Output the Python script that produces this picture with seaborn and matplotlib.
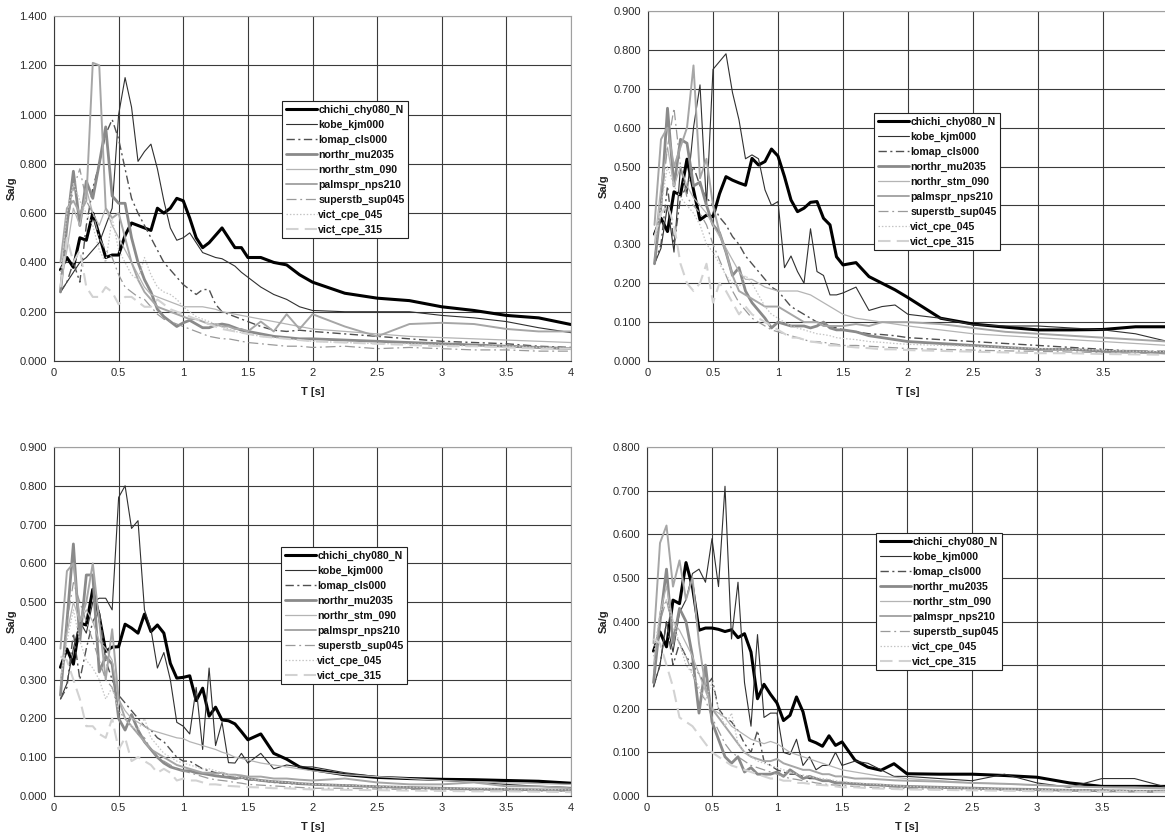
import matplotlib
matplotlib.use('Agg')
import matplotlib.pyplot as plt
import seaborn as sns
from matplotlib.ticker import FuncFormatter, MultipleLocator

# ---------------- data ----------------
T = [0.05, 0.10, 0.15, 0.20, 0.25, 0.30, 0.35, 0.40, 0.45, 0.50,
     0.55, 0.60, 0.65, 0.70, 0.75, 0.80, 0.85, 0.90, 0.95, 1.00,
     1.05, 1.10, 1.15, 1.20, 1.25, 1.30, 1.35, 1.40, 1.45, 1.50,
     1.6, 1.7, 1.8, 1.9, 2.0,
     2.25, 2.5, 2.75, 3.0, 3.25, 3.5, 3.75, 4.0]

NAMES = ["chichi_chy080_N", "kobe_kjm000", "lomap_cls000", "northr_mu2035",
         "northr_stm_090", "palmspr_nps210", "superstb_sup045",
         "vict_cpe_045", "vict_cpe_315"]

# Panel A (top-left)
A_chichi = [.37, .42, .38, .50, .49, .60, .51, .42, .43, .43,
            .51, .56, .55, .54, .53, .62, .60, .62, .66, .65,
            .58, .50, .46, .48, .51, .54, .50, .46, .46, .42,
            .42, .40, .39, .35, .32,
            .275, .255, .245, .22, .205, .185, .175, .148]
A_kobe = [.28, .32, .36, .40, .42, .45, .48, .55, .62, 1.00,
          1.15, 1.03, .81, .85, .88, .78, .65, .54, .49, .50,
          .52, .48, .44, .43, .42, .415, .40, .385, .36, .34,
          .30, .27, .25, .22, .205,
          .20, .20, .20, .185, .175, .16, .135, .115]
A_lomap = [.28, .32, .40, .32, .55, .70, .80, .92, .98, .90,
           .78, .66, .60, .55, .50, .45, .40, .37, .34, .31,
           .29, .27, .29, .29, .23, .20, .19, .18, .17, .16,
           .14, .125, .12, .125, .12,
           .11, .10, .09, .08, .075, .07, .06, .055]
A_mu2035 = [.28, .55, .77, .55, .73, .66, .80, .95, .67, .64,
            .64, .50, .40, .33, .28, .21, .18, .16, .14, .155,
            .165, .15, .135, .135, .145, .15, .145, .135, .125, .12,
            .11, .10, .095, .09, .09,
            .085, .08, .075, .07, .065, .06, .055, .05]
A_stm = [.30, .45, .62, .55, .70, .60, .55, .62, .55, .50,
         .45, .40, .35, .30, .27, .26, .25, .24, .23, .22,
         .22, .22, .22, .215, .21, .20, .195, .19, .185, .18,
         .17, .16, .15, .14, .13,
         .12, .11, .10, .095, .09, .085, .08, .075]
A_palm = [.40, .62, .65, .60, .65, 1.21, 1.20, .62, .58, .60,
          .50, .40, .33, .28, .25, .22, .21, .20, .19, .18,
          .17, .17, .16, .15, .15, .14, .14, .13, .13, .12,
          .16, .12, .19, .13, .19,
          .14, .10, .15, .155, .15, .13, .12, .12]
A_super = [.30, .55, .70, .78, .65, .60, .50, .45, .42, .35,
           .30, .28, .26, .25, .22, .19, .17, .16, .15, .14,
           .13, .12, .11, .10, .095, .09, .09, .085, .08, .075,
           .07, .065, .06, .06, .055,
           .06, .05, .055, .05, .045, .045, .04, .04]
A_v045 = [.35, .60, .72, .65, .60, .55, .45, .40, .58, .45,
          .40, .35, .33, .42, .35, .30, .28, .27, .25, .22,
          .20, .18, .17, .16, .15, .14, .13, .12, .115, .11,
          .10, .095, .09, .085, .08,
          .075, .07, .07, .065, .06, .06, .055, .05]
A_v315 = [.30, .50, .40, .45, .30, .26, .26, .30, .28, .23,
          .26, .26, .24, .22, .22, .25, .23, .21, .20, .19,
          .18, .17, .16, .15, .14, .13, .125, .12, .115, .11,
          .10, .095, .09, .085, .08,
          .075, .07, .065, .06, .06, .055, .05, .05]

# Panel B (top-right)
B_chichi = [.326, .367, .333, .435, .427, .519, .44, .363, .375, .371,
            .43, .474, .465, .458, .452, .521, .504, .513, .545, .527,
            .474, .414, .384, .393, .408, .41, .367, .35, .268, .247,
            .253, .217, .20, .183, .163,
            .11, .095, .087, .08, .08, .081, .088, .088]
B_kobe = [.25, .29, .40, .28, .50, .43, .60, .71, .40, .75,
          .77, .79, .69, .62, .52, .53, .52, .44, .40, .41,
          .24, .27, .23, .20, .34, .23, .22, .17, .17, .175,
          .19, .13, .14, .144, .12,
          .11, .093, .09, .09, .085, .08, .07, .05]
B_lomap = [.25, .30, .45, .30, .42, .45, .50, .45, .42, .40,
           .37, .35, .32, .30, .27, .25, .23, .21, .19, .18,
           .16, .14, .13, .12, .11, .10, .095, .09, .085, .08,
           .075, .07, .068, .065, .06,
           .055, .05, .045, .04, .035, .03, .025, .025]
B_mu2035 = [.25, .40, .65, .45, .57, .56, .45, .46, .40, .35,
            .33, .28, .22, .24, .18, .15, .13, .11, .085, .10,
            .095, .09, .09, .09, .085, .09, .10, .085, .08, .08,
            .075, .065, .06, .055, .05,
            .045, .04, .035, .03, .03, .025, .025, .02]
B_stm = [.30, .45, .55, .45, .50, .45, .42, .40, .38, .35,
         .32, .29, .26, .23, .21, .21, .20, .19, .185, .18,
         .18, .18, .18, .175, .17, .16, .15, .14, .13, .12,
         .11, .105, .10, .095, .09,
         .08, .07, .065, .06, .055, .05, .045, .04]
B_palm = [.35, .57, .60, .50, .55, .60, .76, .47, .52, .40,
          .33, .28, .22, .18, .17, .16, .15, .14, .14, .14,
          .13, .12, .11, .10, .10, .10, .09, .09, .09, .09,
          .095, .09, .10, .10, .10,
          .095, .085, .075, .07, .065, .06, .055, .05]
B_super = [.26, .40, .55, .65, .50, .42, .40, .38, .35, .30,
           .26, .22, .18, .15, .13, .11, .10, .09, .08, .075,
           .07, .065, .06, .055, .05, .05, .048, .045, .043, .04,
           .04, .038, .036, .034, .032,
           .03, .028, .026, .025, .023, .022, .02, .02]
B_v045 = [.30, .40, .50, .45, .42, .40, .38, .35, .30, .28,
          .25, .22, .20, .19, .22, .20, .17, .14, .12, .11,
          .10, .09, .085, .08, .075, .07, .068, .065, .06, .058,
          .055, .05, .048, .045, .043,
          .04, .038, .035, .032, .03, .028, .025, .024]
B_v315 = [.32, .38, .40, .35, .25, .20, .18, .20, .25, .15,
          .20, .18, .15, .12, .14, .12, .11, .10, .09, .08,
          .07, .06, .06, .055, .05, .048, .045, .04, .04, .038,
          .035, .033, .03, .03, .028,
          .026, .024, .022, .02, .02, .018, .017, .016]

# Panel C (bottom-left)
C_chichi = [.332, .379, .34, .446, .441, .533, .463, .373, .384, .385,
            .443, .433, .42, .469, .424, .441, .42, .342, .304, .306,
            .31, .246, .278, .206, .229, .196, .194, .186, .166, .145,
            .16, .11, .095, .075, .068,
            .055, .048, .045, .043, .042, .04, .038, .033]
C_kobe = [.25, .29, .38, .45, .42, .50, .51, .51, .48, .77,
          .80, .69, .71, .48, .43, .33, .37, .30, .19, .18,
          .16, .28, .12, .33, .13, .19, .086, .085, .11, .085,
          .11, .07, .08, .075, .075,
          .06, .05, .045, .04, .035, .03, .025, .022]
C_lomap = [.25, .28, .42, .30, .38, .45, .48, .35, .30, .26,
           .24, .22, .20, .18, .17, .15, .14, .12, .10, .09,
           .09, .08, .07, .065, .06, .055, .05, .048, .045, .042,
           .04, .035, .033, .03, .03,
           .028, .025, .022, .02, .018, .016, .015, .014]
C_mu2035 = [.26, .45, .65, .40, .57, .57, .32, .36, .34, .20,
            .17, .21, .17, .14, .12, .10, .085, .075, .07, .065,
            .065, .06, .058, .055, .052, .05, .048, .045, .048, .045,
            .04, .037, .035, .032, .03,
            .027, .024, .022, .02, .018, .017, .016, .015]
C_stm = [.30, .42, .50, .45, .48, .45, .40, .38, .35, .25,
         .22, .20, .19, .18, .17, .165, .16, .155, .15, .148,
         .14, .135, .13, .125, .12, .113, .108, .10, .097, .093,
         .085, .08, .075, .07, .065,
         .055, .05, .045, .04, .037, .034, .032, .03]
C_palm = [.38, .58, .60, .45, .50, .60, .45, .30, .43, .25,
          .20, .18, .16, .14, .12, .11, .10, .09, .08, .075,
          .07, .065, .06, .06, .058, .06, .055, .055, .053, .05,
          .05, .045, .045, .042, .04,
          .045, .035, .03, .03, .035, .025, .025, .02]
C_super = [.28, .45, .55, .50, .45, .40, .35, .30, .28, .22,
           .20, .18, .16, .15, .12, .10, .09, .08, .07, .065,
           .06, .055, .05, .045, .042, .04, .038, .035, .033, .03,
           .028, .026, .024, .022, .02,
           .02, .018, .017, .016, .015, .014, .013, .012]
C_v045 = [.30, .40, .48, .40, .35, .33, .30, .25, .28, .22,
          .20, .18, .17, .20, .15, .13, .11, .10, .09, .085,
          .08, .075, .07, .07, .065, .06, .055, .05, .048, .045,
          .04, .038, .035, .033, .03,
          .028, .025, .023, .02, .02, .018, .017, .016]
C_v315 = [.36, .35, .30, .25, .18, .18, .16, .15, .20, .12,
          .15, .09, .10, .09, .08, .06, .07, .06, .04, .045,
          .04, .04, .035, .03, .03, .028, .026, .025, .024, .023,
          .022, .02, .02, .018, .017,
          .016, .015, .014, .013, .012, .012, .011, .01]

# Panel D (bottom-right)
D_chichi = [.332, .376, .342, .449, .441, .535, .479, .38, .385, .385,
            .382, .377, .381, .363, .372, .33, .223, .256, .233, .213,
            .173, .185, .227, .193, .128, .122, .114, .138, .116, .124,
            .082, .066, .059, .074, .051,
            .05, .05, .047, .043, .03, .022, .022, .022]
D_kobe = [.25, .30, .40, .33, .42, .45, .51, .52, .49, .59,
          .48, .71, .36, .49, .26, .16, .37, .18, .19, .19,
          .10, .095, .13, .07, .09, .06, .07, .07, .10, .07,
          .08, .075, .06, .045, .045,
          .04, .035, .05, .03, .02, .04, .04, .02]
D_lomap = [.25, .30, .40, .30, .35, .32, .30, .28, .25, .27,
           .20, .18, .17, .15, .12, .10, .15, .08, .07, .06,
           .055, .05, .05, .045, .04, .04, .035, .035, .032, .03,
           .028, .026, .024, .022, .02,
           .019, .018, .016, .015, .014, .013, .012, .011]
D_mu2035 = [.26, .40, .52, .35, .43, .40, .32, .19, .30, .17,
            .13, .09, .075, .09, .055, .065, .05, .05, .05, .055,
            .045, .06, .05, .04, .045, .04, .035, .035, .03, .03,
            .028, .026, .025, .023, .022,
            .02, .018, .016, .015, .013, .012, .011, .01]
D_stm = [.30, .42, .48, .40, .38, .35, .32, .28, .24, .20,
         .19, .18, .16, .15, .14, .13, .125, .12, .125, .12,
         .11, .10, .095, .09, .085, .08, .075, .07, .065, .06,
         .055, .05, .045, .043, .04,
         .035, .03, .028, .025, .023, .02, .018, .016]
D_palm = [.35, .58, .62, .48, .54, .45, .50, .35, .25, .20,
          .18, .16, .14, .12, .10, .09, .085, .08, .08, .085,
          .075, .07, .065, .06, .06, .055, .05, .05, .045, .045,
          .04, .04, .038, .036, .035,
          .033, .03, .028, .025, .022, .02, .02, .018]
D_super = [.28, .40, .45, .38, .35, .32, .28, .24, .22, .18,
           .15, .12, .10, .09, .08, .07, .065, .06, .055, .05,
           .045, .04, .038, .035, .033, .03, .028, .026, .025, .024,
           .022, .02, .019, .018, .017,
           .015, .014, .013, .012, .011, .01, .01, .009]
D_v045 = [.32, .42, .45, .40, .35, .30, .28, .25, .22, .26,
          .20, .16, .19, .12, .10, .09, .08, .075, .07, .065,
          .06, .055, .05, .048, .045, .042, .04, .038, .035, .033,
          .03, .028, .026, .024, .022,
          .02, .018, .016, .015, .014, .013, .012, .011]
D_v315 = [.36, .35, .30, .25, .18, .17, .16, .14, .12, .10,
          .09, .08, .07, .065, .06, .055, .05, .045, .04, .04,
          .035, .035, .03, .03, .028, .026, .025, .024, .022, .02,
          .02, .018, .017, .016, .015,
          .014, .013, .012, .011, .01, .01, .009, .009]

PANEL_A = [A_chichi, A_kobe, A_lomap, A_mu2035, A_stm, A_palm, A_super, A_v045, A_v315]
PANEL_B = [B_chichi, B_kobe, B_lomap, B_mu2035, B_stm, B_palm, B_super, B_v045, B_v315]
PANEL_C = [C_chichi, C_kobe, C_lomap, C_mu2035, C_stm, C_palm, C_super, C_v045, C_v315]
PANEL_D = [D_chichi, D_kobe, D_lomap, D_mu2035, D_stm, D_palm, D_super, D_v045, D_v315]

# ---------------- styles ----------------
STYLES = {
    "chichi_chy080_N": dict(color="#000000", lw=2.2, ls="-"),
    "kobe_kjm000":     dict(color="#303030", lw=0.8, ls="-"),
    "lomap_cls000":    dict(color="#505050", lw=1.0, ls=(0, (6, 2.5, 1.5, 2.5))),
    "northr_mu2035":   dict(color="#8a8a8a", lw=2.0, ls="-"),
    "northr_stm_090":  dict(color="#b4b4b4", lw=0.9, ls="-"),
    "palmspr_nps210":  dict(color="#a6a6a6", lw=1.4, ls="-"),
    "superstb_sup045": dict(color="#9a9a9a", lw=0.9, ls=(0, (8, 3, 1.5, 3))),
    "vict_cpe_045":    dict(color="#c4c4c4", lw=0.9, ls=(0, (1.2, 1.5))),
    "vict_cpe_315":    dict(color="#d2d2d2", lw=1.5, ls=(0, (6, 3))),
}

sns.set_theme(style="white")
plt.rcParams['font.family'] = ['Liberation Sans', 'DejaVu Sans']

fig = plt.figure(figsize=(11.65, 8.36), dpi=100)
W, H = 1165.0, 836.0

panels = [
    # data, left px, right px, top px, bottom px, ymax, ystep, legend (x, ytop) px, hide last x label, ylabel x px
    (PANEL_A, 54, 571, 16, 361, 1.4, 0.2, (282, 101), False, 12),
    (PANEL_B, 648, 1168, 11, 361, 0.9, 0.1, (874, 113), True, 604),
    (PANEL_C, 54, 571, 447, 796, 0.9, 0.1, (281, 547), False, 12),
    (PANEL_D, 647, 1167, 447, 796, 0.8, 0.1, (876, 533), True, 604),
]

for data, l, r, t, b, ymax, ystep, (lx, ly), hide4, ylx in panels:
    ax = fig.add_axes([l / W, 1 - b / H, (r - l) / W, (b - t) / H])
    ax.set_facecolor("white")
    for name, vals in zip(NAMES, data):
        st = STYLES[name]
        sns.lineplot(x=T, y=vals, ax=ax, color=st["color"], linewidth=st["lw"],
                     linestyle=st["ls"], label=name, legend=False)
    ax.set_xlim(0, 4)
    ax.set_ylim(0, ymax)
    ax.xaxis.set_major_locator(MultipleLocator(0.5))
    ax.yaxis.set_major_locator(MultipleLocator(ystep))
    ax.yaxis.set_major_formatter(FuncFormatter(lambda v, p: f"{v:.3f}"))
    if hide4:
        ax.xaxis.set_major_formatter(FuncFormatter(lambda v, p: "" if v > 3.9 else f"{v:g}"))
    else:
        ax.xaxis.set_major_formatter(FuncFormatter(lambda v, p: f"{v:g}"))
    ax.grid(True, color="#3a3a3a", linewidth=0.8)
    ax.set_axisbelow(True)
    ax.tick_params(axis="both", length=0, labelsize=8, labelcolor="#2a2a2a", pad=5)
    for s in ["left", "bottom"]:
        ax.spines[s].set_color("#3a3a3a")
        ax.spines[s].set_linewidth(0.8)
    for s in ["top", "right"]:
        ax.spines[s].set_color("#a0a0a0")
        ax.spines[s].set_linewidth(0.8)
    ax.set_ylabel("Sa/g", fontsize=8, fontweight="bold", color="#222222")
    ax.yaxis.label.set_va("center")
    ax.yaxis.set_label_coords((ylx - l) / (r - l), 0.5)
    ax.set_xlabel("T [s]", fontsize=8, fontweight="bold", color="#222222")
    ax.xaxis.set_label_coords((((l + r) / 2) - l) / (r - l), -(26.0) / (b - t))
    handles, labels = ax.get_legend_handles_labels()
    leg = ax.legend(handles, labels, loc="upper left",
                    bbox_to_anchor=((lx - l) / (r - l), (b - ly) / (b - t)),
                    frameon=True, fancybox=False, shadow=False, framealpha=1,
                    edgecolor="#222222", prop=dict(size=7.6, weight="bold"),
                    handlelength=3.0, handletextpad=0.1, labelspacing=0.46,
                    borderpad=0.35, borderaxespad=0)
    leg.get_frame().set_linewidth(0.8)
    for txt in leg.get_texts():
        txt.set_color("#111111")

fig.savefig("out.png", dpi=100, facecolor="white")
